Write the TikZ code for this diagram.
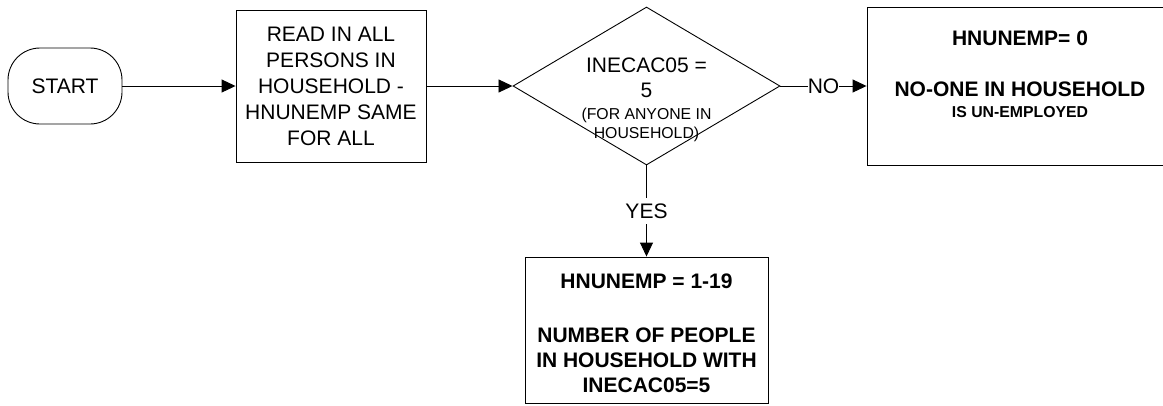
\documentclass[tikz,border=0pt]{standalone}
\usepackage{fontspec}
\setmainfont{Liberation Sans}
\usetikzlibrary{shapes.geometric,arrows.meta}
\tikzset{
  boxline/.style={draw=black, line width=0.9pt, inner sep=0pt},
  arr/.style={draw=black, line width=0.9pt, -{Triangle[length=14pt,width=13pt]}},
  regtxt/.style={font=\fontsize{21}{25}\selectfont},
  boldtxt/.style={font=\bfseries\fontsize{21}{25}\selectfont},
}
\begin{document}
\begin{tikzpicture}[x=1pt,y=-1pt]
\useasboundingbox (0,0) rectangle (1163,405);
% shapes
\node[boxline, rounded corners=32pt, minimum width=114pt, minimum height=76pt, regtxt] (start) at (65,86) {START};
\node[boxline, minimum width=190pt, minimum height=152pt, align=center, font=\fontsize{21}{26}\selectfont] (proc) at (331,86)
  {READ IN ALL\\PERSONS IN\\HOUSEHOLD -\\HNUNEMP SAME\\FOR ALL};
\node[boxline, diamond, minimum width=267pt, minimum height=158pt] (dec) at (646.5,86) {};
\node[anchor=north, align=center, inner sep=0pt, regtxt] (dectext) at (646.5,58)
  {INECAC05 =\\5\\[-3pt]{\fontsize{15.8}{19}\selectfont (FOR ANYONE IN}\\[-6pt]{\fontsize{15.8}{19}\selectfont HOUSEHOLD)}};
\node[boxline, minimum width=306pt, minimum height=158pt] (nobox) at (1020,86) {};
\node[anchor=north, align=center, inner sep=0pt, boldtxt] (notext) at (1020,31)
  {HNUNEMP= 0\\[26pt]NO-ONE IN HOUSEHOLD\\[-4pt]{\bfseries\fontsize{15.8}{19}\selectfont IS UN-EMPLOYED}};
\node[boxline, minimum width=243pt, minimum height=146pt] (ybox) at (646.5,330) {};
\node[anchor=north, align=center, inner sep=0pt, boldtxt] (ytext) at (646.5,274)
  {HNUNEMP = 1-19\\[29pt]NUMBER OF PEOPLE\\IN HOUSEHOLD WITH\\INECAC05=5};
% connectors
\draw[arr] (start) -- (proc);
\draw[arr] (proc) -- (dec);
\draw[arr] (dec.east) -- node[fill=white, inner sep=0pt, regtxt] (nolab) {NO} (nobox.west);
\draw[arr] (dec.south) -- node[fill=white, inner xsep=1pt, inner ysep=6pt, regtxt] (yeslab) {YES} (ybox.north);
\end{tikzpicture}
\end{document}
